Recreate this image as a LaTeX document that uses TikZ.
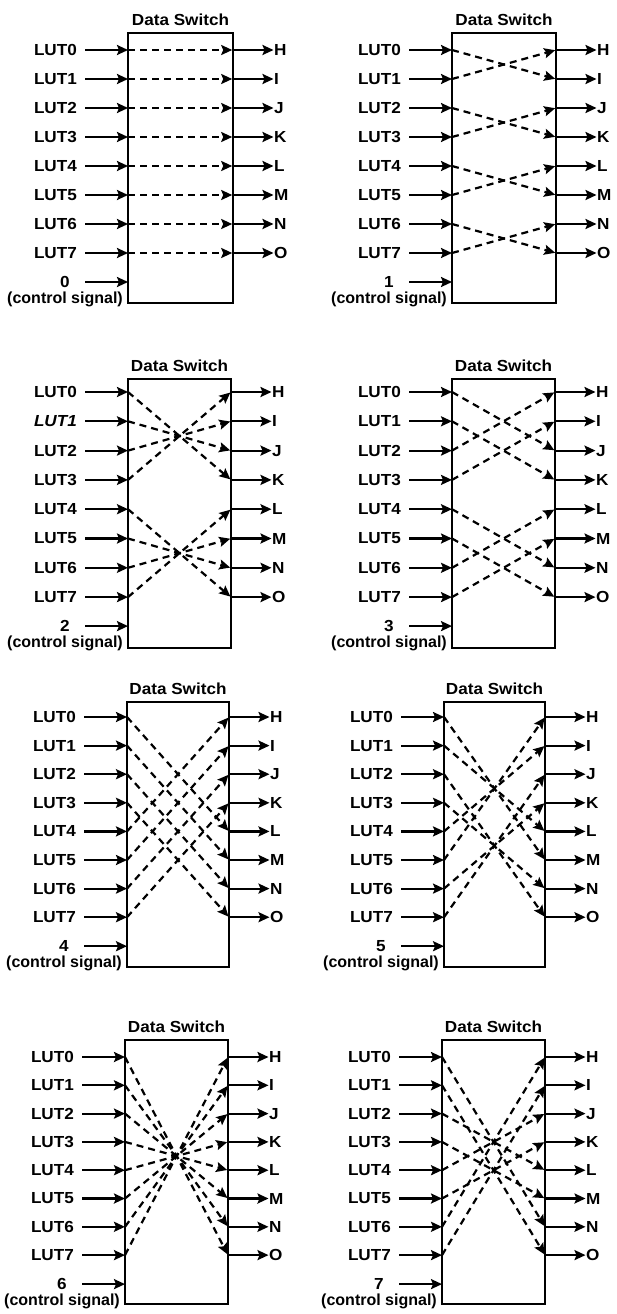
\documentclass[tikz,border=0pt]{standalone}
\usepackage{fontspec}
\setmainfont{Liberation Sans}
\newfontfamily\widefont{Liberation Sans}[FakeStretch=1.07]
\usetikzlibrary{arrows.meta}
\tikzset{
  arr/.style={line width=2.2pt, -{Stealth[length=11pt,width=10pt,inset=2pt]}},
  dasharr/.style={arr, dash pattern=on 7pt off 5pt},
  boxst/.style={draw, line width=2.1pt, inner sep=0pt, outer sep=0pt},
  txt/.style={font=\fontsize{16}{16}\selectfont\widefont\bfseries, inner sep=0pt},
  cstxt/.style={font=\fontsize{16}{16}\selectfont\bfseries, inner sep=0pt},
}
% #1 id, #2 control number, #3 xor value, #4 xL, #5 xR, #6 yTop, #7 y0, #8 dy, #9 yBot
\newcommand\drawpanel[9]{%
  \pgfmathsetmacro\xm{(#4+#5)/2}
  \pgfmathsetmacro\cy{#7+7*#8+29}
  \node[boxst, anchor=north west, minimum width={#5pt-#4pt}, minimum height={#9pt-#6pt}] (p#1b) at (#4,#6) {};
  \node[txt, anchor=base] (p#1t) at (\xm,#6-7.5) {Data Switch};
  \foreach \k/\nm in {0/H,1/I,2/J,3/K,4/L,5/M,6/N,7/O}{
    \pgfmathsetmacro\yy{#7+\k*#8}
    \coordinate (p#1i\k) at (#4,\yy);
    \coordinate (p#1o\k) at (#5,\yy);
    \node[txt, anchor=east] (p#1l\k) at (#4-51,\yy) {\ifnum#1=2 \ifnum\k=1 \itshape\fi\fi LUT\k};
    \node[txt, anchor=west] (p#1r\k) at (#5+41,\yy) {\nm};
    \draw[arr, shorten <=8pt] (p#1l\k) -- (p#1i\k);
    \draw[arr, shorten >=0.5pt] (p#1o\k) -- (p#1r\k);
  }
  \foreach \k in {0,...,7}{
    \pgfmathtruncatemacro\t{mod(mod(\k,2)+mod(#3,2),2)+2*mod(floor(\k/2)+floor(#3/2),2)+4*mod(floor(\k/4)+floor(#3/4),2)}
    \draw[dasharr, shorten >=0.8pt] (p#1i\k) -- (p#1o\t);
  }
  \coordinate (p#1ci) at (#4,\cy);
  \coordinate (p#1cs) at (#4-43,\cy);
  \node[txt] (p#1cn) at (#4-63,\cy) {#2};
  \node[cstxt, anchor=east] (p#1cl) at (#4-5,\cy+17) {(control signal)};
  \draw[arr] (p#1cs) -- (p#1ci);
}
\begin{document}
\begin{tikzpicture}[x=1pt,y=-1pt]
\useasboundingbox (0,0) rectangle (616,1314);
\drawpanel{0}{0}{0}{128}{233}{33}{50}{29}{303}
\drawpanel{1}{1}{1}{452}{556}{33}{50}{29}{303}
\drawpanel{2}{2}{3}{128}{231}{379}{392}{29.3}{648}
\drawpanel{3}{3}{2}{452}{555}{379}{392}{29.3}{648}
\drawpanel{4}{4}{4}{127}{229}{702}{717}{28.6}{967}
\drawpanel{5}{5}{5}{444}{545}{702}{717}{28.6}{967}
\drawpanel{6}{6}{7}{125}{228}{1040}{1057}{28.3}{1304}
\drawpanel{7}{7}{6}{442}{545}{1040}{1057}{28.3}{1304}
\end{tikzpicture}
\end{document}
